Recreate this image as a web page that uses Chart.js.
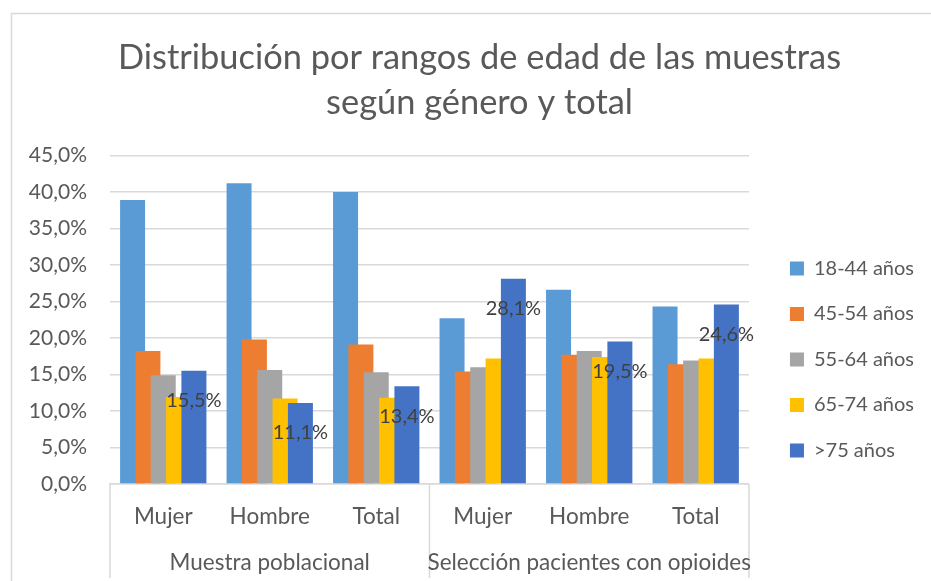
<!DOCTYPE html>
<html>
<head>
<meta charset="utf-8">
<script src="https://cdn.jsdelivr.net/npm/chart.js@4.4.1/dist/chart.umd.min.js"></script>
<style>
  html, body { margin: 0; padding: 0; background: #fff; }
  #wrap { width: 931px; height: 581px; position: relative; }
</style>
</head>
<body>
<div id="wrap"><canvas id="chart"></canvas></div>
<script>
const categories = ['Mujer', 'Hombre', 'Total', 'Mujer', 'Hombre', 'Total'];
const groups = ['Muestra poblacional', 'Selección pacientes con opioides'];
const seriesNames = ['18-44 años', '45-54 años', '55-64 años', '65-74 años', '>75 años'];
const age18to44 = [38.9, 41.2, 40.0, 22.7, 26.6, 24.3];
const age45to54 = [18.2, 19.8, 19.1, 15.4, 17.7, 16.4];
const age55to64 = [14.9, 15.6, 15.3, 16.0, 18.2, 16.9];
const age65to74 = [11.9, 11.7, 11.8, 17.2, 17.4, 17.2];
const age75plus = [15.5, 11.1, 13.4, 28.1, 19.5, 24.6];
const yMax = 45;
const yStep = 5;

const colors = ['#5B9BD5', '#ED7D31', '#A5A5A5', '#FFC000', '#4472C4'];
const FONT = 'Lato';
const TEXT = '#595959';

function pct(v) {
  return v.toFixed(1).replace('.', ',') + '%';
}

// excel style extras: overlapping bars (later series on top), value labels,
// the two-level category axis and the chart frame
const excelLook = {
  id: 'excelLook',
  afterLayout(chart) {
    // title is centred on the whole frame, not only left of the legend
    const t = chart.titleBlock;
    const shift = 479.5 - (t.left + t.right) / 2;
    t.left += shift;
    t.right += shift;
  },
  beforeDraw(chart) {
    const ctx = chart.ctx;
    ctx.save();
    ctx.strokeStyle = '#d9d9d9';
    ctx.lineWidth = 1.5;
    ctx.strokeRect(11.5, 13.5, chart.width + 10, chart.height + 10);
    ctx.restore();
  },
  beforeDatasetsDraw(chart) {
    const ctx = chart.ctx;
    for (let i = 0; i < chart.data.datasets.length; i++) {
      const meta = chart.getDatasetMeta(i);
      if (meta.visible) meta.controller.draw();
    }
    // labels only on the >75 series
    const last = chart.getDatasetMeta(chart.data.datasets.length - 1);
    ctx.save();
    ctx.font = '20px ' + FONT;
    ctx.fillStyle = '#404040';
    ctx.textAlign = 'center';
    ctx.textBaseline = 'middle';
    last.data.forEach(function (bar, i) {
      ctx.fillText(pct(age75plus[i]), bar.x, bar.y + 30);
    });
    ctx.restore();
    return false;
  },
  afterDraw(chart) {
    const ctx = chart.ctx;
    const x = chart.scales.x;
    const bottom = x.top;
    const mid = (x.getPixelForValue(2) + x.getPixelForValue(3)) / 2;
    ctx.save();
    ctx.strokeStyle = '#d9d9d9';
    ctx.lineWidth = 1.5;
    [x.left, mid, x.right].forEach(function (px) {
      ctx.beginPath();
      ctx.moveTo(px, bottom);
      ctx.lineTo(px, 578);
      ctx.stroke();
    });
    ctx.font = '22.5px ' + FONT;
    ctx.fillStyle = TEXT;
    ctx.textAlign = 'center';
    ctx.textBaseline = 'middle';
    ctx.fillText(groups[0], (x.left + mid) / 2, 563);
    ctx.fillText(groups[1], (mid + x.right) / 2, 563);
    ctx.restore();
  }
};

const seriesData = [age18to44, age45to54, age55to64, age65to74, age75plus];

new Chart(document.getElementById('chart'), {
  type: 'bar',
  data: {
    labels: categories,
    datasets: seriesNames.map(function (name, i) {
      return {
        label: name,
        data: seriesData[i],
        backgroundColor: colors[i],
        categoryPercentage: 0.72,
        barPercentage: 1.63
      };
    })
  },
  options: {
    responsive: true,
    maintainAspectRatio: false,
    animation: false,
    layout: {
      padding: { left: 24, right: 7, top: 36, bottom: 0 }
    },
    plugins: {
      title: {
        display: true,
        text: ['Distribución por rangos de edad de las muestras', 'según género y total'],
        color: TEXT,
        font: { family: FONT, size: 34.4, weight: 'normal', lineHeight: 1.3 },
        padding: { top: 0, bottom: 30 }
      },
      legend: {
        position: 'right',
        maxWidth: 163.5,
        // empty title only pushes the entries down
        title: { display: true, text: '', font: { size: 10 }, padding: { top: 90, bottom: 0 } },
        labels: {
          color: TEXT,
          font: { family: FONT, size: 20 },
          boxWidth: 14,
          boxHeight: 14,
          padding: 25.5
        }
      },
      tooltip: { enabled: false }
    },
    scales: {
      y: {
        min: 0,
        max: yMax,
        ticks: {
          stepSize: yStep,
          color: TEXT,
          font: { family: FONT, size: 21 },
          padding: 23,
          callback: function (v) { return pct(v); }
        },
        grid: { color: '#d9d9d9', lineWidth: 1.5, drawTicks: false },
        border: { display: false },
        afterFit: function (s) { s.width = 86; }
      },
      // hidden axis that only keeps a gap between plot and legend
      gap: {
        position: 'right',
        display: false,
        afterFit: function (s) { s.width = 15.5; }
      },
      x: {
        ticks: {
          color: TEXT,
          font: { family: FONT, size: 22.5 },
          padding: 19,
          maxRotation: 0
        },
        grid: { display: false, drawTicks: false },
        border: { display: true, color: '#d9d9d9', width: 1.5 },
        afterFit: function (s) { s.height = 97; }
      }
    }
  },
  plugins: [excelLook]
});
</script>
</body>
</html>
